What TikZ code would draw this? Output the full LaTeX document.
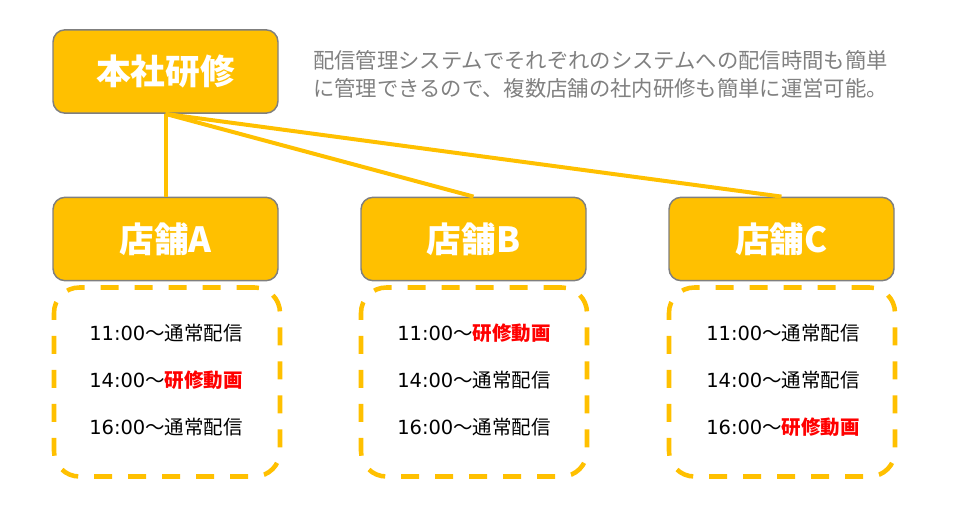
\documentclass[tikz,border=0pt]{standalone}
\usepackage{fontspec}
\setmainfont{Noto Sans CJK JP}
\newfontfamily\digitfont{DejaVu Sans}
\definecolor{gold}{HTML}{FFC000}
\definecolor{frame}{HTML}{7F7F7F}
\definecolor{desc}{HTML}{808080}
\definecolor{hot}{HTML}{FF0000}
\newcommand{\tm}[1]{{\digitfont #1}}
\begin{document}
\begin{tikzpicture}[x=0.75pt,y=-0.75pt,
  headbox/.style={draw=frame,line width=1.1pt,fill=gold,rounded corners=9pt,
    minimum width=168.75pt,minimum height=62.5pt,inner sep=0pt,
    text=white,font=\fontsize{26}{30}\selectfont\bfseries},
  schedbox/.style={draw=gold,line width=3.4pt,rounded corners=19pt,
    dash pattern=on 13.5pt off 12pt,minimum width=169.5pt,minimum height=141.75pt,inner sep=0pt},
  link/.style={draw=gold,line width=3pt},
  sched/.style={anchor=west,inner sep=0pt,font=\fontsize{14.6}{17}\selectfont}]
\useasboundingbox (0,0) rectangle (960,505);
\node[headbox] (hq) at (165.5,71.5) {本社研修};
\node[headbox] (A) at (165.5,239) {店舗A};
\node[headbox] (B) at (473.5,239) {店舗B};
\node[headbox] (C) at (781.5,239) {店舗C};
\draw[link] (hq.south) -- (A.north);
\draw[link] (hq.south) -- (B.north);
\draw[link] (hq.south) -- (C.north);
\node[schedbox] (SA) at (167,382) {};
\node[schedbox] (SB) at (474,382) {};
\node[schedbox] (SC) at (782,382) {};
\node[anchor=west,inner sep=0pt,text=desc,align=left,font=\fontsize{16}{21}\selectfont] (d) at (313,74)
 {配信管理システムでそれぞれのシステムへの配信時間も簡単\\に管理できるので、複数店舗の社内研修も簡単に運営可能。};
% store A
\node[sched] (a1) at (89,333) {\tm{11:00}～通常配信};
\node[sched] (a2) at (89,380) {\tm{14:00}～\textcolor{hot}{\bfseries 研修動画}};
\node[sched] (a3) at (89,427) {\tm{16:00}～通常配信};
% store B
\node[sched] (b1) at (397,333) {\tm{11:00}～\textcolor{hot}{\bfseries 研修動画}};
\node[sched] (b2) at (397,380) {\tm{14:00}～通常配信};
\node[sched] (b3) at (397,427) {\tm{16:00}～通常配信};
% store C
\node[sched] (c1) at (706,333) {\tm{11:00}～通常配信};
\node[sched] (c2) at (706,380) {\tm{14:00}～通常配信};
\node[sched] (c3) at (706,427) {\tm{16:00}～\textcolor{hot}{\bfseries 研修動画}};
\end{tikzpicture}
\end{document}
